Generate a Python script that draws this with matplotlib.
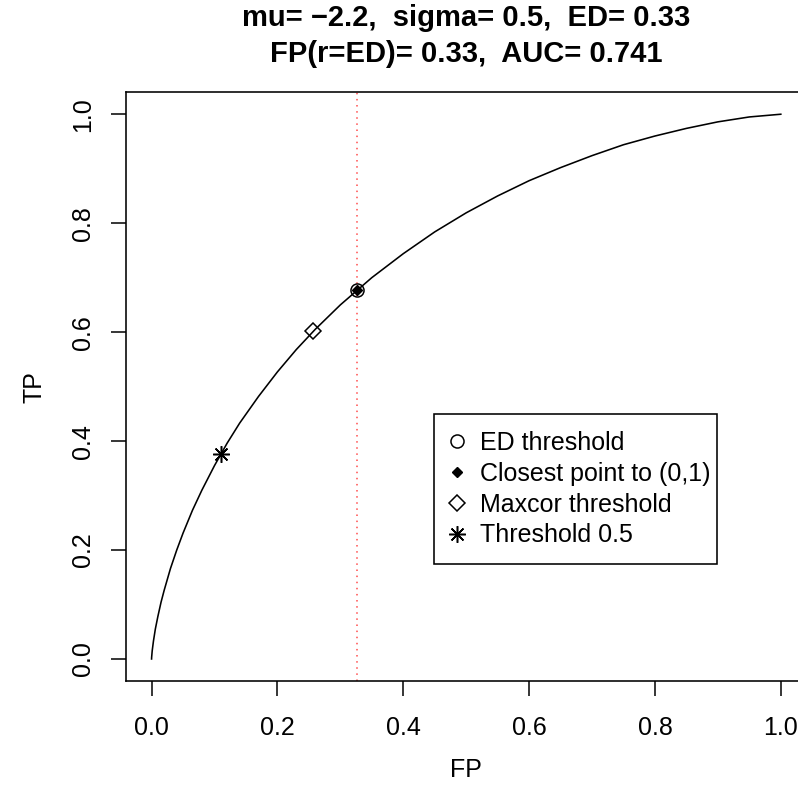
import matplotlib
matplotlib.use("Agg")
import matplotlib.pyplot as plt
from matplotlib.lines import Line2D
from matplotlib.patches import Rectangle

plt.rcParams["font.family"] = ["Liberation Sans", "DejaVu Sans"]

# ROC curve
fp = [0.0, 0.0001, 0.001, 0.003, 0.006, 0.010, 0.015, 0.020, 0.030, 0.040, 0.050,
      0.065, 0.080, 0.100, 0.120, 0.140, 0.170, 0.200, 0.230, 0.260, 0.300, 0.350,
      0.400, 0.450, 0.500, 0.550, 0.600, 0.650, 0.700, 0.750, 0.800, 0.850, 0.900,
      0.950, 0.980, 1.0]
tp = [0.0, 0.003, 0.015, 0.033, 0.055, 0.078, 0.104, 0.126, 0.166, 0.200, 0.231,
      0.273, 0.310, 0.355, 0.396, 0.433, 0.482, 0.527, 0.568, 0.605, 0.650, 0.700,
      0.744, 0.784, 0.819, 0.850, 0.878, 0.902, 0.924, 0.944, 0.960, 0.974, 0.986,
      0.995, 0.998, 1.0]

ed_point = (0.327, 0.678)
closest_point = (0.327, 0.678)
maxcor_point = (0.256, 0.602)
thr05_point = (0.1096, 0.376)
fp_at_ed = 0.327

title_lines = ["mu= \u22122.2,  sigma= 0.5,  ED= 0.33",
               "FP(r=ED)= 0.33,  AUC= 0.741"]
legend_labels = ["ED threshold", "Closest point to (0,1)", "Maxcor threshold", "Threshold 0.5"]
ticks = [0.0, 0.2, 0.4, 0.6, 0.8, 1.0]
tick_labels = ["0.0", "0.2", "0.4", "0.6", "0.8", "1.0"]

fig = plt.figure(figsize=(7.98, 8.01), dpi=100)
ax = fig.add_axes([0.1584, 0.1501, 0.8516, 0.7345])

ax.plot(fp, tp, color="black", lw=1.15)
ax.axvline(fp_at_ed, color="#ff4d4d", lw=1.1, dashes=(1.0, 3.0))

ax.plot(*ed_point, marker="o", ms=9.4, mfc="none", mec="black", mew=1.1, ls="none")
ax.plot(*closest_point, marker="D", ms=5, color="black", ls="none")
ax.plot(*maxcor_point, marker="D", ms=8, mfc="none", mec="black", mew=1.1, ls="none")
ax.plot(*thr05_point, marker=(8, 2, 0), ms=12, color="black", mew=1.1, ls="none")

ax.set_xlim(-0.04, 1.04)
ax.set_ylim(-0.04, 1.04)
ax.set_xticks(ticks)
ax.set_xticklabels(tick_labels, fontsize=18)
ax.set_yticks(ticks)
ax.set_yticklabels(tick_labels, fontsize=18, rotation=90, va="center")
ax.tick_params(direction="out", length=10.8, width=1.1)
ax.tick_params(axis="x", pad=14.5)
ax.tick_params(axis="y", pad=11.5)
for s in ax.spines.values():
    s.set_linewidth(1.15)

handles = [
    Line2D([], [], marker="o", ms=9.4, mfc="none", mec="black", mew=1.1, ls="none"),
    Line2D([], [], marker="D", ms=5, color="black", ls="none"),
    Line2D([], [], marker="D", ms=8, mfc="none", mec="black", mew=1.1, ls="none"),
    Line2D([], [], marker=(8, 2, 0), ms=12, color="black", mew=1.1, ls="none"),
]
ax.legend(handles, legend_labels, loc="upper left", bbox_to_anchor=(0.4486, 0.4498),
          bbox_transform=ax.transData, fontsize=18, frameon=False,
          borderpad=0.69, handlelength=0.46, handletextpad=0.69, labelspacing=0.27,
          borderaxespad=0)
# legend frame as R draws it (narrower right padding)
ax.add_patch(Rectangle((0.4486, 0.1744), 0.898 - 0.4486, 0.4498 - 0.1744,
                       fill=False, edgecolor="black", lw=1.15, zorder=5))

fig.text(0.584, 1 - 25.8 / 801, title_lines[0], ha="center", va="baseline",
         fontsize=21, fontweight="bold")
fig.text(0.584, 1 - 61.8 / 801, title_lines[1], ha="center", va="baseline",
         fontsize=21, fontweight="bold")
fig.text(0.584, 1 - 770 / 801, "FP", ha="center", va="center", fontsize=18)
fig.text(35 / 798, 1 - 387 / 801, "TP", ha="center", va="center", fontsize=18, rotation=90)

fig.savefig("out.png", dpi=100)
plt.close(fig)
